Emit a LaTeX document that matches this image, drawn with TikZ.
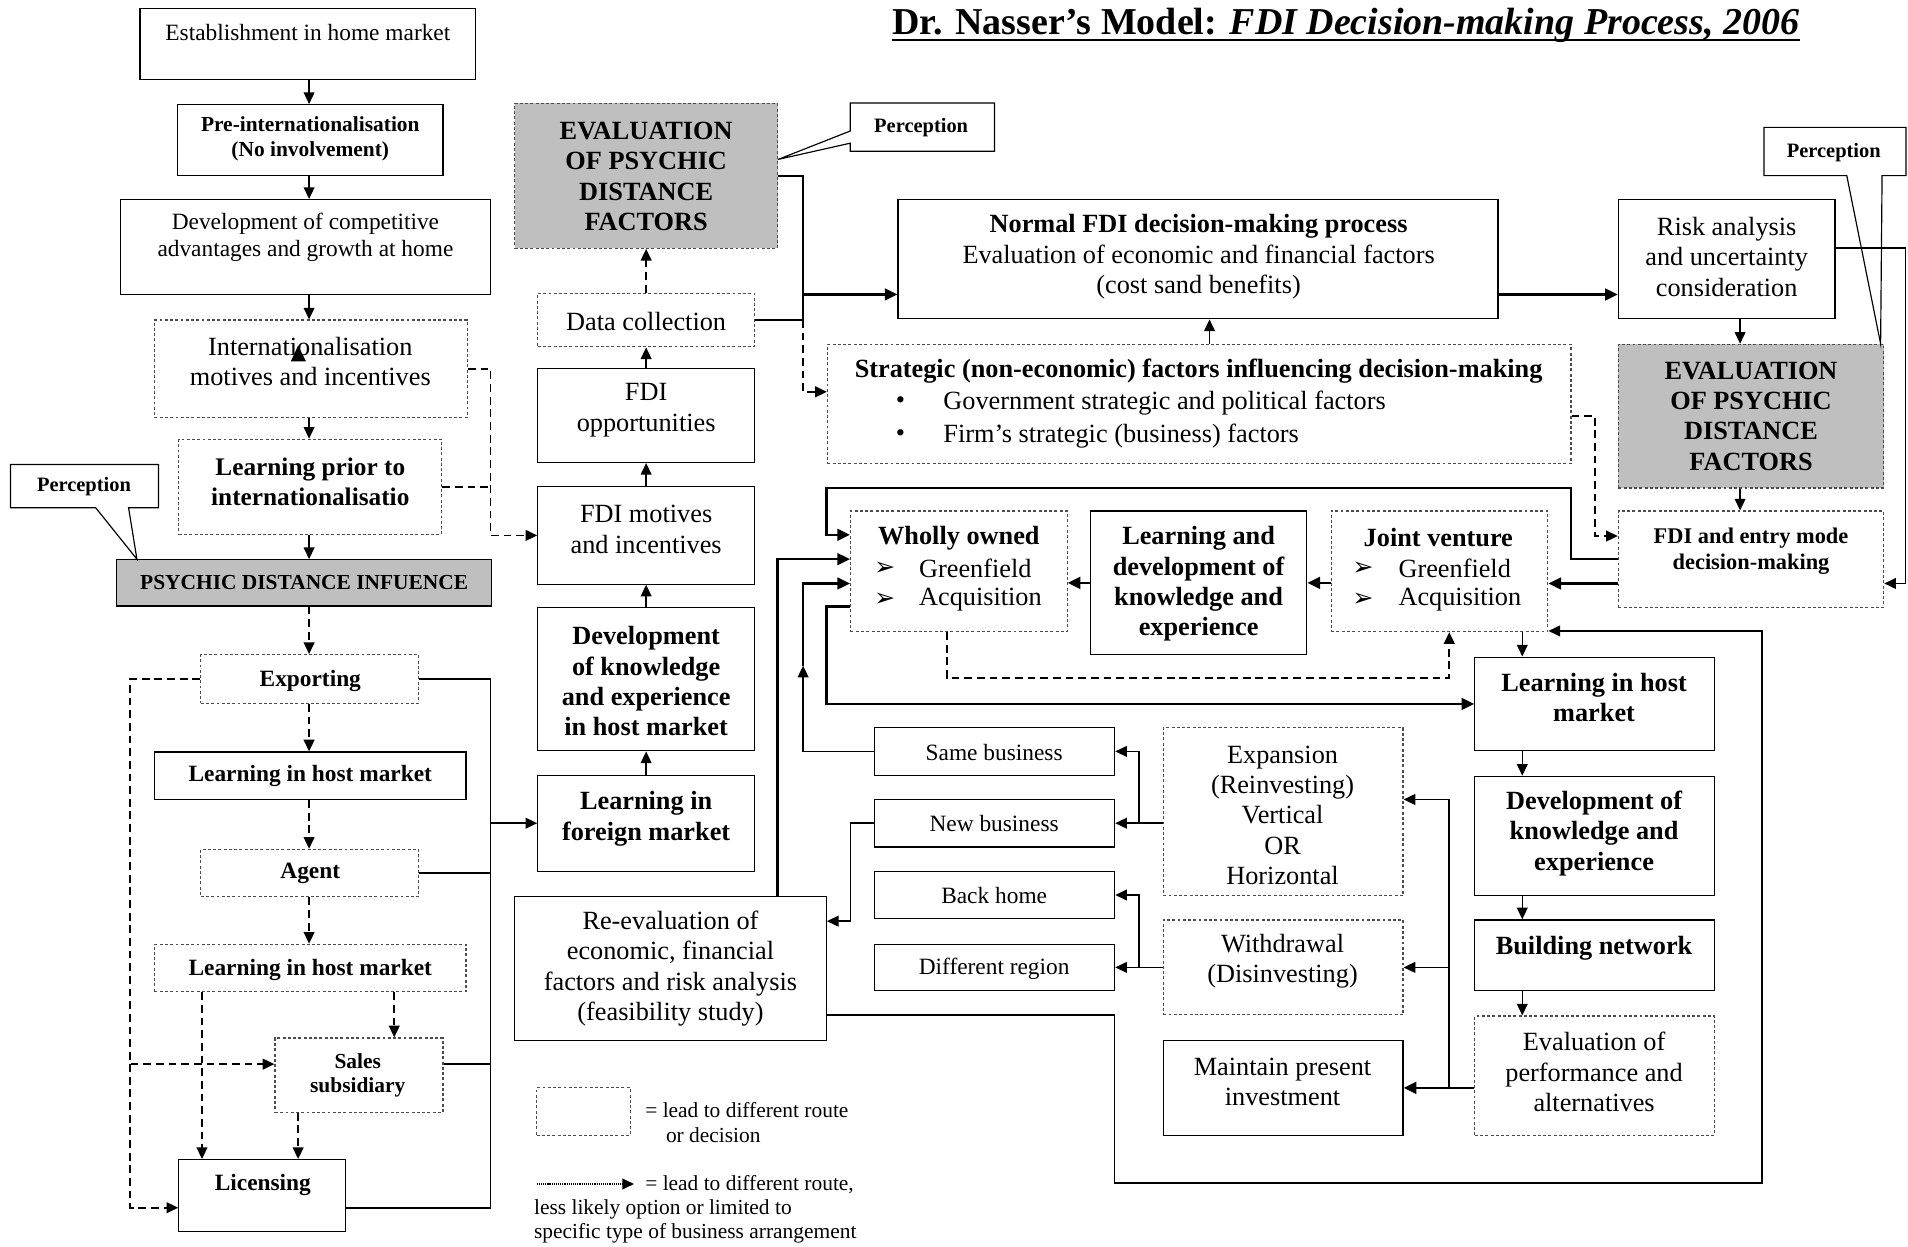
\documentclass[tikz,border=0pt]{standalone}
\usepackage{fontspec}
\setmainfont{Liberation Serif}
\newfontfamily\dejavu{DejaVu Sans}
\usetikzlibrary{arrows.meta,fit,calc}
\newcommand\fsz[2]{\fontsize{#1}{#2}\selectfont}
\begin{document}
\begin{tikzpicture}[x=0.625pt,y=-0.625pt,
 sbox/.style={draw, line width=0.6pt, inner sep=0pt},
 dbox/.style={draw=black!70, line width=0.6pt, dash pattern=on 1.5pt off 1.2pt, inner sep=0pt},
 gfill/.style={fill=black!25},
 txt/.style={inner sep=0pt, align=center},
 reg/.style={font=\fsz{13.5}{15.6}},
 regs/.style={font=\fsz{12}{13.8}},
 bld/.style={font=\bfseries\fsz{13.5}{15.6}},
 bldm/.style={font=\bfseries\fsz{12}{14}},
 blds/.style={font=\bfseries\fsz{11}{12.5}},
 perc/.style={font=\bfseries\fsz{10.5}{12}},
 arw/.style={font=\dejavu\fsz{13}{15}},
 con/.style={line width=0.8pt, -{Triangle[length=6pt,width=5.5pt]}},
 tcon/.style={line width=1.3pt, -{Triangle[length=6.5pt,width=6pt]}},
 plain/.style={line width=0.8pt},
 dcon/.style={line width=0.9pt, dash pattern=on 4pt off 2.5pt, -{Triangle[length=6pt,width=5.5pt]}},
 dline/.style={line width=0.9pt, dash pattern=on 4pt off 2.5pt},
 callout/.style={line width=0.6pt},
]
\useasboundingbox (0,0) rectangle (1568,1024);

% ---------- title ----------
\node[anchor=base west, inner sep=0pt, font=\bfseries\fsz{19.5}{22}] (title) at (733,28)
  {Dr. Nasser{\char"27}s Model: \textit{FDI Decision-making Process, 2006}};
\draw[line width=1.2pt] ($(title.base west)+(0,5)$) -- ($(title.base east)+(0,5)$);

% ---------- left column boxes ----------
\node[sbox, fit={(115,7)(391,65)}] (est) {};
\node[sbox, fit={(146,86)(364,144)}] (pre) {};
\node[sbox, fit={(99,164)(403,242)}] (devc) {};
\node[dbox, fit={(127,263)(384,343)}] (intm) {};
\node[dbox, fit={(147,361)(363,439)}] (lpi) {};
\node[sbox, gfill, fit={(96,460)(404,498)}] (psy) {};
\node[dbox, fit={(165,538)(344,578)}] (exp) {};
\node[sbox, fit={(127,618)(383,657)}] (lhmA) {};
\node[dbox, fit={(165,698)(344,737)}] (agent) {};
\node[dbox, fit={(127,776)(383,815)}] (lhmB) {};
\node[dbox, fit={(226,853)(364,914)}] (sales) {};
\node[sbox, fit={(147,953)(284,1012)}] (lic) {};

% ---------- middle column boxes ----------
\node[dbox, gfill, fit={(423,85)(639,204)}] (evalA) {};
\node[dbox, fit={(442,241)(620,285)}] (data) {};
\node[sbox, fit={(442,303)(620,380)}] (fdiopp) {};
\node[sbox, fit={(442,400)(620,480)}] (fdimot) {};
\node[sbox, fit={(442,499)(620,617)}] (dkehm) {};
\node[sbox, fit={(442,637)(620,716)}] (lfm) {};
\node[sbox, fit={(423,737)(679,855)}] (reeval) {};

% ---------- right upper boxes ----------
\node[sbox, fit={(738,164)(1231,262)}] (normal) {};
\node[dbox, fit={(680,283)(1291,381)}] (strat) {};
\node[sbox, fit={(1330,164)(1508,262)}] (risk) {};
\node[dbox, gfill, fit={(1330,283)(1548,401)}] (evalB) {};
\node[dbox, fit={(1330,420)(1548,499)}] (entry) {};
\node[dbox, fit={(699,420)(877,519)}] (wo) {};
\node[sbox, fit={(896,420)(1074,538)}] (ldke) {};
\node[dbox, fit={(1094,420)(1272,519)}] (jv) {};

% ---------- right lower boxes ----------
\node[sbox, fit={(1212,540)(1409,617)}] (lhmR) {};
\node[sbox, fit={(1212,638)(1409,736)}] (dkeR) {};
\node[sbox, fit={(1212,756)(1409,814)}] (bn) {};
\node[dbox, fit={(1212,835)(1409,933)}] (evalp) {};
\node[dbox, fit={(956,598)(1153,736)}] (exps) {};
\node[dbox, fit={(956,756)(1153,834)}] (wdr) {};
\node[sbox, fit={(956,855)(1153,933)}] (maint) {};
\node[sbox, fit={(719,598)(916,637)}] (sb) {};
\node[sbox, fit={(719,657)(916,696)}] (nb) {};
\node[sbox, fit={(719,716)(916,755)}] (bh) {};
\node[sbox, fit={(719,776)(916,814)}] (dr) {};

% ---------- legend box ----------
\node[dbox, fit={(441,894)(518,933)}] (legbox) {};

% ---------- callouts ----------
\node[inner sep=0pt, fit={(9,382)(130,417)}] (percL) {};
\draw[callout] (percL.north west) -- (percL.north east) -- (percL.south east)
  -- ($(percL.south west)+(97,0)$) -- ($(psy.north west)+(17,0)$)
  -- ($(percL.south west)+(70,0)$) -- (percL.south west) -- cycle;
\node[inner sep=0pt, fit={(699,85)(817,124)}] (percM) {};
\node[inner sep=0pt] (tipM) at (evalA.east |- 0,131) {};
\draw[callout] (percM.north west) -- (percM.north east) -- (percM.south east)
  -- (percM.south west) -- ($(percM.north west)+(0,33)$) -- (tipM.center)
  -- ($(percM.north west)+(0,23)$) -- cycle;
\node[inner sep=0pt, fit={(1450,105)(1566,144)}] (percR) {};
\draw[callout] (percR.north west) -- (percR.north east) -- (percR.south east)
  -- ($(percR.south west)+(97,0)$) -- ($(evalB.north east)+(-3,0)$)
  -- ($(percR.south west)+(68,0)$) -- (percR.south west) -- cycle;

% ---------- helper coordinates ----------
\coordinate (xL) at (254,0);
\coordinate (xS) at (324,0);
\coordinate (xLic) at (166,0);
\coordinate (xSL) at (245,0);
\coordinate (xDL) at (107,0);
\coordinate (xRL) at (403,0);
\coordinate (xJ) at (660,0);
\coordinate (xN) at (994,0);
\coordinate (xE) at (1430,0);
\coordinate (xRE) at (1566,0);
\coordinate (xSD) at (1311,0);
\coordinate (xT) at (1291,0);
\coordinate (yT) at (0,401);
\coordinate (xW) at (679,0);
\coordinate (xRv) at (639,0);
\coordinate (yMid) at (0,547);
\coordinate (xWd) at (778,0);
\coordinate (xJd) at (1191,0);
\coordinate (yD) at (0,557);
\coordinate (xR) at (1251,0);
\coordinate (xV) at (1191,0);
\coordinate (xE2) at (936,0);
\coordinate (xNB) at (699,0);
\coordinate (xF1) at (916,0);
\coordinate (yF) at (0,972);
\coordinate (xF2) at (1448,0);

% ---------- left column connectors ----------
\draw[con] (est.south -| xL) -- (pre.north -| xL);
\draw[con] (pre.south -| xL) -- (devc.north -| xL);
\draw[con] (devc.south -| xL) -- (intm.north -| xL);
\draw[con] (intm.south -| xL) -- (lpi.north -| xL);
\draw[con] (lpi.south -| xL) -- (psy.north -| xL);
\draw[dcon] (psy.south -| xL) -- (exp.north -| xL);
\draw[dcon] (exp.south -| xL) -- (lhmA.north -| xL);
\draw[dcon] (lhmA.south -| xL) -- (agent.north -| xL);
\draw[dcon] (agent.south -| xL) -- (lhmB.north -| xL);
\draw[dcon] (lhmB.south -| xS) -- (sales.north -| xS);
\draw[dcon] (lhmB.south -| xLic) -- (lic.north -| xLic);
\draw[dcon] (sales.south -| xSL) -- (lic.north -| xSL);
\draw[dcon] (exp.west) -| ($(xDL |- sales.west)+(0,-9)$) -- ($(sales.west)+(0,-9)$);
\draw[dcon] ($(xDL |- sales.west)+(0,-9)$) -- ($(xDL |- lic.west)+(0,10)$) -- ($(lic.west)+(0,10)$);
\draw[plain] (exp.east) -- (exp.east -| xRL) -- ($(xRL |- lic.east)+(0,10)$) -- ($(lic.east)+(0,10)$);
\draw[plain] (agent.east) -- (agent.east -| xRL);
\draw[plain] ($(sales.east)+(0,-9)$) -- ($(xRL |- sales.east)+(0,-9)$);
\draw[con] (xRL |- lfm.west) -- (lfm.west);
\draw[dcon] (intm.east) -| (xRL |- fdimot.west) -- (fdimot.west);
\draw[dline] (lpi.east) -- (lpi.east -| xRL);

% ---------- middle column connectors ----------
\draw[con] (lfm.north) -- (dkehm.south);
\draw[con] (dkehm.north) -- (fdimot.south);
\draw[con] (fdimot.north) -- (fdiopp.south);
\draw[con] (fdiopp.north) -- (data.south);
\draw[dcon] (data.north) -- (evalA.south);
\draw[plain] (evalA.east) -| (xJ |- data.east) -- (data.east);
\draw[tcon] ($(xJ |- normal.west)+(0,29)$) -- ($(normal.west)+(0,29)$);
\draw[dcon] (xJ |- data.east) |- ($(strat.west)+(0,-10)$);

% ---------- upper right connectors ----------
\draw[con] (strat.north -| xN) -- (normal.south -| xN);
\draw[tcon] ($(normal.east)+(0,29)$) -- ($(risk.west)+(0,29)$);
\draw[con] (risk.south -| xE) -- (evalB.north -| xE);
\draw[con] (evalB.south -| xE) -- (entry.north -| xE);
\draw[con] ($(risk.east)+(0,-9)$) -| ($(xRE |- entry.east)+(0,20)$) -- ($(entry.east)+(0,20)$);
\draw[dcon] ($(strat.east)+(0,10)$) -| ($(xSD |- entry.west)+(0,-19)$) -- ($(entry.west)+(0,-19)$);
\draw[tcon] ($(entry.west)+(0,20)$) -- ($(jv.east |- entry.west)+(0,20)$);
\draw[tcon] (jv.west |- ldke.east) -- (ldke.east);
\draw[tcon] (ldke.west) -- (wo.east |- ldke.west);
\draw[tcon] (entry.west) -- (entry.west -| xT) -- (xT |- yT) -- (xW |- yT)
  -- ($(xW |- wo.west)+(0,-30)$) -- ($(wo.west)+(0,-30)$);
\draw[tcon] (reeval.north -| xRv) -- ($(xRv |- wo.west)+(0,-10)$) -- ($(wo.west)+(0,-10)$);
\draw[con] (sb.west) -- (sb.west -| xJ) -- (xJ |- yMid);
\draw[tcon] (xJ |- yMid) -- ($(xJ |- wo.west)+(0,10)$) -- ($(wo.west)+(0,10)$);
\draw[tcon] ($(wo.west)+(0,29)$) -| (xW |- lhmR.west) -- (lhmR.west);
\draw[dcon] (wo.south -| xWd) -- (xWd |- yD) -- (xJd |- yD) -- (jv.south -| xJd);

% ---------- lower right connectors ----------
\draw[con] (jv.south -| xR) -- (lhmR.north -| xR);
\draw[con] (lhmR.south -| xR) -- (dkeR.north -| xR);
\draw[con] (dkeR.south -| xR) -- (bn.north -| xR);
\draw[con] (bn.south -| xR) -- (evalp.north -| xR);
\draw[tcon] (evalp.west |- maint.east) -- (maint.east);
\draw[plain] (xV |- maint.east) -- ($(xV |- exps.east)+(0,-10)$);
\draw[con] ($(xV |- exps.east)+(0,-10)$) -- ($(exps.east)+(0,-10)$);
\draw[con] (xV |- wdr.east) -- (wdr.east);
\draw[con] (exps.west |- nb.east) -- (nb.east);
\draw[con] (xE2 |- nb.east) -- (xE2 |- sb.east) -- (sb.east);
\draw[con] (wdr.west |- dr.east) -- (dr.east);
\draw[con] (xE2 |- dr.east) -- (xE2 |- bh.east) -- (bh.east);
\draw[con] (nb.west) -| ($(xNB |- reeval.east)+(0,-39)$) -- ($(reeval.east)+(0,-39)$);
\draw[con] ($(reeval.east)+(0,38)$) -- ($(xF1 |- reeval.east)+(0,38)$) -- (xF1 |- yF)
  -- (xF2 |- yF) -- ($(xF2 |- jv.east)+(0,49)$) -- ($(jv.east)+(0,49)$);

% ---------- texts ----------
\node[txt, regs] (estT) at (253,27) {Establishment in home market};
\node[txt, blds] (preT) at (255,114) {Pre-internationalisation\\(No involvement)};
\node[txt, regs] (devcT) at (251,195) {Development of competitive\\advantages and growth at home};
\node[txt, reg] (intmT) at (255,297) {Internationalisation\\motives and incentives};
\fill (239,297) -- (251.5,297) -- (245,284) -- cycle;
\node[txt, font=\bfseries\fsz{13}{15.6}] (lpiT) at (255,396) {Learning prior to\\internationalisatio};
\node[txt, perc] (percLT) at (69,400) {Perception};
\node[txt, blds] (psyT) at (250,479) {PSYCHIC DISTANCE INFUENCE};
\node[txt, bldm] (expT) at (255,560) {Exporting};
\node[txt, bldm] (lhmAT) at (255,638) {Learning in host market};
\node[txt, bldm] (agentT) at (255,718) {Agent};
\node[txt, bldm] (lhmBT) at (255,797) {Learning in host market};
\node[txt, blds] (salesT) at (294,884) {Sales\\subsidiary};
\node[txt, bldm] (licT) at (216,974) {Licensing};

\node[txt, bld] (evalAT) at (531,145) {EVALUATION\\OF PSYCHIC\\DISTANCE\\FACTORS};
\node[txt, perc] (percMT) at (757,105) {Perception};
\node[txt, reg] (dataT) at (531,264) {Data collection};
\node[txt, reg] (fdioppT) at (531,337) {FDI\\opportunities};
\node[txt, reg] (fdimotT) at (531,435) {FDI motives\\and incentives};
\node[txt, bld] (dkehmT) at (531,560) {Development\\of knowledge\\and experience\\in host market};
\node[txt, bld] (lfmT) at (531,673) {Learning in\\foreign market};
\node[txt, reg] (reevalT) at (551,796) {Re-evaluation of\\economic, financial\\factors and risk analysis\\(feasibility study)};

\node[txt, reg] (normalT) at (985,211) {\textbf{Normal FDI decision-making process}\\Evaluation of economic and financial factors\\(cost sand benefits)};
\node[txt, bld] (stratT) at (985,305) {Strategic (non-economic) factors influencing decision-making};
\node[txt, reg] (bulA) at (740,331) {•};
\node[txt, reg, anchor=west] (stratA) at (775,331) {Government strategic and political factors};
\node[txt, reg] (bulB) at (740,358) {•};
\node[txt, reg, anchor=west] (stratB) at (775,358) {Firm’s strategic (business) factors};
\node[txt, reg] (riskT) at (1419,211) {Risk analysis\\and uncertainty\\consideration};
\node[txt, perc] (percRT) at (1507,125) {Perception};
\node[txt, bld] (evalBT) at (1439,342) {EVALUATION\\OF PSYCHIC\\DISTANCE\\FACTORS};
\node[txt, font=\bfseries\fsz{11.5}{13.75}] (entryT) at (1439,453) {FDI and entry mode\\decision-making};

\node[txt, bld] (woT) at (788,442) {Wholly owned};
\node[txt, arw] (woA) at (727,467) {➢};
\node[txt, reg, anchor=west] (woB) at (755,467) {Greenfield};
\node[txt, arw] (woC) at (727,493) {➢};
\node[txt, reg, anchor=west] (woD) at (755,493) {Acquisition};
\node[txt, bld] (ldkeT) at (985,480) {Learning and\\development of\\knowledge and\\experience};
\node[txt, bld] (jvT) at (1182,442) {Joint venture};
\node[txt, arw] (jvA) at (1120,467) {➢};
\node[txt, reg, anchor=west] (jvB) at (1149,467) {Greenfield};
\node[txt, arw] (jvC) at (1120,493) {➢};
\node[txt, reg, anchor=west] (jvD) at (1149,493) {Acquisition};

\node[txt, bld] (lhmRT) at (1310,573) {Learning in host\\market};
\node[txt, bld] (dkeRT) at (1310,685) {Development of\\knowledge and\\experience};
\node[txt, bld] (bnT) at (1310,779) {Building network};
\node[txt, reg] (evalpT) at (1310,881) {Evaluation of\\performance and\\alternatives};
\node[txt, reg] (expsT) at (1054,670) {Expansion\\(Reinvesting)\\Vertical\\OR\\Horizontal};
\node[txt, reg] (wdrT) at (1054,790) {Withdrawal\\(Disinvesting)};
\node[txt, reg] (maintT) at (1054,889) {Maintain present\\investment};
\node[txt, regs] (sbT) at (817,618) {Same business};
\node[txt, regs] (nbT) at (817,677) {New business};
\node[txt, regs] (bhT) at (817,736) {Back home};
\node[txt, regs] (drT) at (817,796) {Different region};

% ---------- legend ----------
\node[inner sep=0pt, anchor=base west, font=\fsz{11}{12.8}] (legA) at (530,918) {= lead to different route};
\node[inner sep=0pt, anchor=base west, font=\fsz{11}{12.8}] (legB) at (547,939) {or decision};
\coordinate (legS) at (441,973);
\coordinate (legE) at (521,973);
\draw[line width=0.9pt, dash pattern=on 0.6pt off 0.5pt, -{Triangle[length=6pt,width=5.5pt]}] (legS) -- (legE);
\node[inner sep=0pt, anchor=base west, font=\fsz{11}{12.8}] (legC) at (530,978) {= lead to different route,};
\node[inner sep=0pt, anchor=base west, font=\fsz{11}{12.8}] (legD) at (438.6,998) {less likely option or limited to};
\node[inner sep=0pt, anchor=base west, font=\fsz{11}{12.8}] (legF) at (438.6,1018) {specific type of business arrangement};
\end{tikzpicture}
\end{document}
